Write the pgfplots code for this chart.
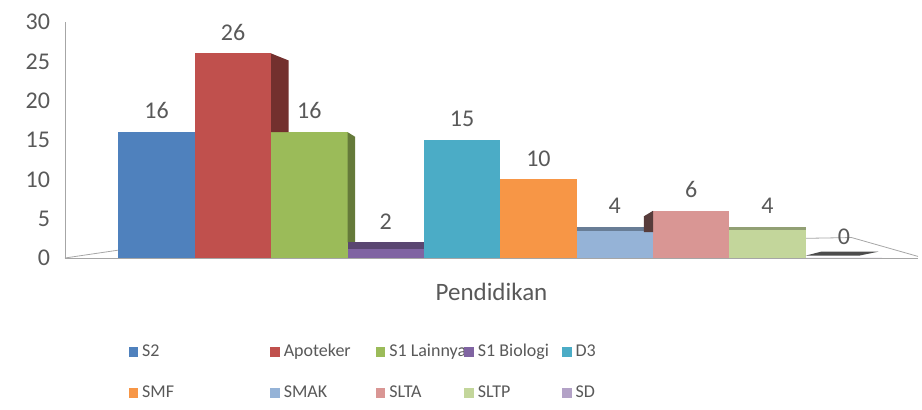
\documentclass[border=0pt]{standalone}
\usepackage{pgfplots}
\pgfplotsset{compat=1.18}
\usepackage{fontspec}
\setmainfont{Carlito}
\definecolor{cS2}{HTML}{4F81BD}
\definecolor{cApo}{HTML}{C0504D}
\definecolor{cS1L}{HTML}{9BBB59}
\definecolor{cS1B}{HTML}{8064A2}
\definecolor{cD3}{HTML}{4BACC6}
\definecolor{cSMF}{HTML}{F79646}
\definecolor{cSMAK}{HTML}{95B3D7}
\definecolor{cSLTA}{HTML}{D99694}
\definecolor{cSLTP}{HTML}{C3D69B}
\definecolor{cSD}{HTML}{B3A2C7}
\definecolor{txt}{HTML}{595959}
\definecolor{axgray}{HTML}{A6A6A6}
\begin{document}
\begin{tikzpicture}
\begin{axis}[
  scale only axis, width=426.5pt, height=118pt,
  xmin=-1.2, xmax=9.97, ymin=0, ymax=30,
  ytick={0,5,...,30}, xtick=\empty,
  axis x line=bottom, axis y line=left,
  axis line style={axgray, -},
  major tick length=0pt,
  yticklabel style={font=\fontsize{12}{14}\selectfont, color=txt, xshift=-4pt},
  /pgf/number format/assume math mode=true,
  mybar/.style={ybar, bar width=1, bar shift=0pt, draw=none, fill=#1,
    nodes near coords,
    every node near coord/.append style={font=\fontsize{12}{14}\selectfont, color=txt, yshift=3pt}},
  face/.style={forget plot, fill=#1, draw=none, sharp plot, mark=none},
  xlabel={Pendidikan},
  xlabel style={font=\fontsize{12.5}{15}\selectfont, color=txt, yshift=-9pt},
  clip=false,
  legend columns=5,
  legend style={at={(rel axis cs:0.067,-0.33)}, anchor=north west, draw=none,
    font=\fontsize{9}{11}\selectfont, text=txt, row sep=9pt,
    /tikz/every even column/.append style={column sep=0pt}},
  legend cell align=left,
  legend image code/.code={\fill[#1] (0pt,-2.4pt) rectangle (4.8pt,2.4pt);},
]
\draw[axgray] (axis cs:-1.2,0) -- (axis cs:-0.5,1.0) -- (axis cs:9.1,2.6) -- (axis cs:9.97,0.2);
\addplot[mybar=cS2] coordinates {(0,16)};
\addlegendentry{\makebox[62pt][l]{S2}}
\addplot[mybar=cApo] coordinates {(1,26)};
\addlegendentry{\makebox[44pt][l]{Apoteker}}
\addplot[mybar=cS1L] coordinates {(2,16)};
\addlegendentry{\makebox[35.5pt][l]{S1 Lainnya}}
\addplot[mybar=cS1B] coordinates {(3,2)};
\addlegendentry{\makebox[40pt][l]{S1 Biologi}}
\addplot[mybar=cD3] coordinates {(4,15)};
\addlegendentry{D3}
\addplot[mybar=cSMF] coordinates {(5,10)};
\addlegendentry{\makebox[62pt][l]{SMF}}
\addplot[mybar=cSMAK] coordinates {(6,4)};
\addlegendentry{\makebox[44pt][l]{SMAK}}
\addplot[mybar=cSLTA] coordinates {(7,6)};
\addlegendentry{\makebox[35.5pt][l]{SLTA}}
\addplot[mybar=cSLTP] coordinates {(8,4)};
\addlegendentry{\makebox[40pt][l]{SLTP}}
\addplot[mybar=cSD] coordinates {(9,0)};
\addlegendentry{SD}
% 3D side and top faces
\addplot[face=cApo!60!black] coordinates {(1.5,26) (1.73,25.1) (1.73,16) (1.5,16)} -- cycle;
\addplot[face=cS1L!65!black] coordinates {(2.5,16) (2.6,15.4) (2.6,2) (2.5,2)} -- cycle;
\addplot[face=cS1B!70!black] coordinates {(2.5,2) (3.5,2) (3.5,1.1) (2.5,1.1)} -- cycle;
\addplot[face=cSMAK!70!black] coordinates {(5.5,4) (6.38,4) (6.38,3.4) (5.5,3.4)} -- cycle;
\addplot[face=cSLTA!40!black] coordinates {(6.38,5.3) (6.5,6) (6.5,3.3) (6.38,3.3)} -- cycle;
\addplot[face=cSLTP!75!black] coordinates {(7.5,4) (8.5,4) (8.5,3.6) (7.5,3.6)} -- cycle;
\addplot[face=gray!60!black] coordinates {(8.5,0.3) (9.2,0.3) (9.45,0.8) (8.7,0.8)} -- cycle;
\coordinate (bbsw) at (rel axis cs:-0.0762,-0.644);
\coordinate (bbne) at (rel axis cs:1.0047,1.0932);
\end{axis}
\pgfresetboundingbox
\useasboundingbox (bbsw) rectangle (bbne);
\end{tikzpicture}
\end{document}
